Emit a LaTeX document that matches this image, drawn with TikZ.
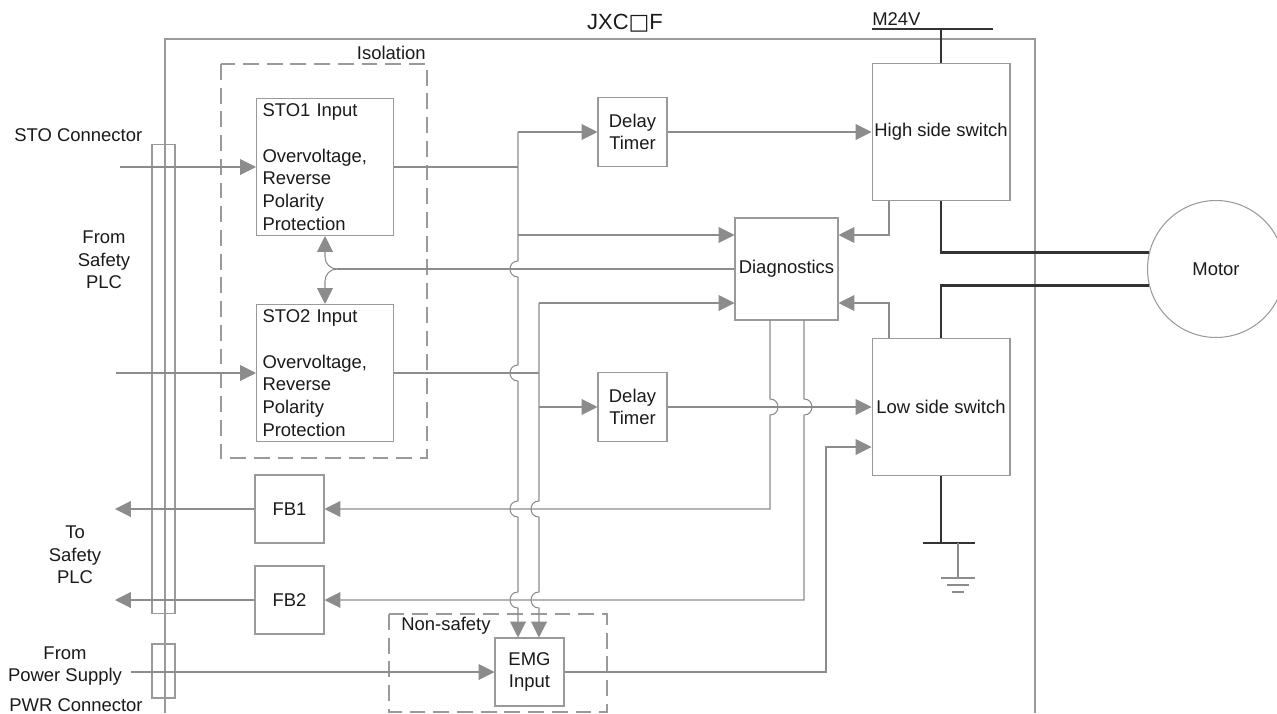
\documentclass[tikz,border=0pt]{standalone}
\usepackage{fontspec}
\setmainfont{Liberation Sans}
\newfontfamily\symfont{DejaVu Sans}
\usetikzlibrary{arrows.meta}

\definecolor{wiregray}{HTML}{8C8C8C}
\definecolor{boxgray}{HTML}{9A9A9A}
\definecolor{powerline}{HTML}{333333}
\definecolor{labeltext}{HTML}{1A1A1A}

\begin{document}
\begin{tikzpicture}[x=0.02cm, y=-0.02cm, >={Triangle[length=9pt,width=9pt]},
    font=\fontsize{10.5}{12.9}\selectfont, text=labeltext,
    blk/.style={draw=boxgray, line width=0.6pt, inner sep=0pt, align=center},
    wire/.style={draw=wiregray, line width=0.6pt},
    power/.style={draw=powerline, line width=1.4pt},
    zone/.style={draw=boxgray, line width=0.6pt, dash pattern=on 9pt off 4.5pt},
    hopl/.style={out=180, in=180, looseness=1.7},
    hopr/.style={out=0, in=0, looseness=1.7}]
    \useasboundingbox (0,0) rectangle (1277,713);

    % controller outline, zones and connectors
    \draw[draw=boxgray, line width=0.6pt] (165,713) -- (165,39) -- (1035,39) -- (1035,713);
    \node (title) at (625,23) {\fontsize{12.5}{14}\selectfont JXC{\symfont □}F};
    \draw[zone] (221,64) rectangle (427,458);
    \draw[zone] (389,614) rectangle (607,712);
    \node[anchor=base east, inner sep=0pt] (isolab) at (426,60) {Isolation};
    \node[anchor=base west, inner sep=0pt] (nslab) at (401,630) {Non-safety};
    \node[blk, minimum width=0.46cm, minimum height=9.4cm] (stoconn) at (163.5,379) {};
    \node[blk, minimum width=0.46cm, minimum height=1.08cm] (pwrconn) at (163.5,671) {};

    % blocks
    \node[blk, minimum width=2.74cm, minimum height=2.74cm, text width=2.5cm, align=left] (sto1) at (325,167)
        {STO1 Input\\[12.9pt]Overvoltage,\\Reverse\\Polarity\\Protection};
    \node[blk, minimum width=2.74cm, minimum height=2.74cm, text width=2.5cm, align=left] (sto2) at (325,373)
        {STO2 Input\\[12.9pt]Overvoltage,\\Reverse\\Polarity\\Protection};
    \node[blk, minimum width=1.38cm, minimum height=1.38cm] (dt1) at (632.5,132) {Delay\\Timer};
    \node[blk, minimum width=1.38cm, minimum height=1.38cm] (dt2) at (632.5,407) {Delay\\Timer};
    \node[blk, minimum width=2.06cm, minimum height=2.04cm] (diag) at (786.5,269) {Diagnostics};
    \node[blk, minimum width=2.76cm, minimum height=2.74cm] (hss) at (941,132) {High side switch};
    \node[blk, minimum width=2.76cm, minimum height=2.74cm] (lss) at (941,407) {Low side switch};
    \node[blk, minimum width=1.38cm, minimum height=1.36cm] (fb1) at (289.5,509) {FB1};
    \node[blk, minimum width=1.38cm, minimum height=1.36cm] (fb2) at (289.5,600) {FB2};
    \node[blk, minimum width=1.38cm, minimum height=1.36cm] (emg) at (529.5,672) {EMG\\Input};
    \node[blk, circle, minimum size=2.74cm] (motor) at (1216,269) {Motor};

    % outside labels
    \node[anchor=base west, inner sep=0pt] (stolab) at (14,141) {STO Connector};
    \node[align=center] (fromplc) at (104,260) {From\\Safety\\PLC};
    \node[align=center] (toplc) at (75,555) {To\\Safety\\PLC};
    \node[align=center] (frompsu) at (65,666) {From\\Power Supply};
    \node (pwrlab) at (76,705) {PWR Connector};
    \node[anchor=base west, inner sep=0pt] (m24lab) at (872,26) {M24V};

    % STO inputs and bus A
    \coordinate (sto1src) at (120,167);
    \coordinate (sto2src) at (116,373);
    \coordinate (busa) at (518,132);
    \coordinate (busad) at (518,235);
    \draw[wire,->] (sto1src) -- (sto1.west);
    \draw[wire,->] (sto2src) -- (sto2.west);
    \draw[wire] (sto1.east) -- (sto1.east -| busa);
    \draw[wire,->] (busa) -- (dt1.west);
    \draw[wire,->] (busad) -- (busad -| diag.west);
    \draw[wire,->] (busa) -- (518,261) to[hopl] (518,277) -- (518,365) to[hopl] (518,381)
        -- (518,501) to[hopl] (518,517) -- (518,592) to[hopl] (518,608) -- (emg.north -| busa);

    % bus B
    \coordinate (busb) at (539,303);
    \coordinate (busbt) at (539,407);
    \draw[wire] (sto2.east) -- (sto2.east -| busb);
    \draw[wire,->] (busb) -- (busb -| diag.west);
    \draw[wire,->] (busbt) -- (dt2.west);
    \draw[wire,->] (busb) -- (539,501) to[hopl] (539,517) -- (539,592) to[hopl] (539,608) -- (emg.north -| busb);

    % timers to switches
    \draw[wire,->] (dt1.east) -- (hss.west);
    \draw[wire,->] (dt2.east) -- (lss.west);

    % diagnostics feedback to STO inputs
    \coordinate (fbsplit) at (337,269);
    \draw[wire] (diag.west) -- (fbsplit);
    \draw[wire,->] (fbsplit) to[out=180, in=-90] (325,257) -- (sto1.south);
    \draw[wire,->] (fbsplit) to[out=180, in=90] (325,281) -- (sto2.north);

    % diagnostics to FB outputs
    \coordinate (dgo1) at (770,320);
    \coordinate (dgo2) at (804,320);
    \draw[wire,->] (dgo1) -- (770,399) to[hopr] (770,415) -- (770,509) -- (fb1.east);
    \draw[wire,->] (dgo2) -- (804,399) to[hopr] (804,415) -- (804,600) -- (fb2.east);
    \coordinate (fb1dst) at (115,509);
    \coordinate (fb2dst) at (115,600);
    \draw[wire,->] (fb1.west) -- (fb1dst);
    \draw[wire,->] (fb2.west) -- (fb2dst);

    % switch monitoring
    \coordinate (hsfb) at (889,235);
    \coordinate (lsfb) at (889,303);
    \draw[wire,->] (hsfb |- hss.south) -- (hsfb) -- (hsfb -| diag.east);
    \draw[wire,->] (lsfb |- lss.north) -- (lsfb) -- (lsfb -| diag.east);

    % EMG input
    \coordinate (pwrsrc) at (131,672);
    \coordinate (emgup) at (826,447);
    \draw[wire,->] (pwrsrc) -- (emg.west);
    \draw[wire,->] (emg.east) -| (emgup) -- (emgup -| lss.west);

    % power path
    \coordinate (m24tap) at (941,29);
    \coordinate (gnd) at (941,543);
    \draw[power] (872,29) -- (993,29);
    \draw[power] (m24tap) -- (hss.north);
    \draw[power] (hss.south) |- (motor.166);
    \draw[power] (motor.194) -| (lss.north);
    \draw[power] (lss.south) -- (gnd);
    \draw[power] (923,543) -- (975,543);
    \draw[wire] (958,543) -- (958,578);
    \draw[wire, line width=1pt] (941,578) -- (975,578) (947,585) -- (969,585) (952,592) -- (964,592);
\end{tikzpicture}
\end{document}
